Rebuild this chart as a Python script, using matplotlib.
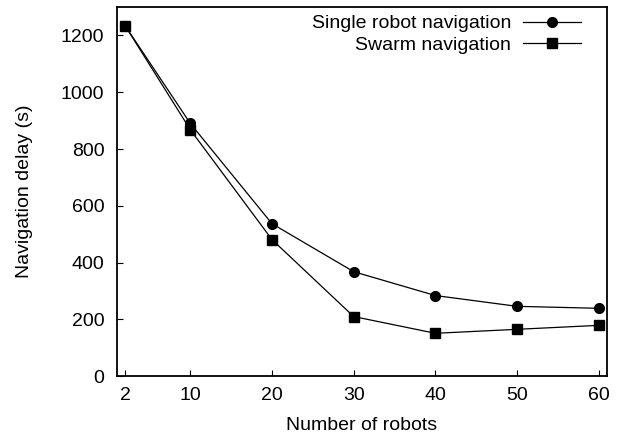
import matplotlib
matplotlib.use("Agg")
import matplotlib.pyplot as plt

plt.rcParams["font.family"] = ["Liberation Sans", "DejaVu Sans"]

robots = [2, 10, 20, 30, 40, 50, 60]
single_delay = [1235, 890, 537, 368, 284, 246, 239]
swarm_delay = [1235, 868, 481, 210, 151, 165, 179]

fig = plt.figure(figsize=(6.18, 4.41), dpi=100)
ax = fig.add_axes([0.189, 0.147, 0.793, 0.837])

ax.plot(robots, single_delay, color="black", lw=0.9, marker="o", ms=7,
        label="Single robot navigation")
ax.plot(robots, swarm_delay, color="black", lw=0.9, marker="s", ms=7.5,
        label="Swarm navigation")

ax.set_xlim(1, 61)
ax.set_ylim(0, 1300)
ax.set_xticks(robots)
ax.set_yticks(range(0, 1201, 200))
ax.tick_params(direction="in", length=4, width=0.8, labelsize=14)
ax.tick_params(axis="x", pad=8)
ax.tick_params(axis="y", pad=9)
for s in ax.spines.values():
    s.set_linewidth(1.3)

ax.set_xlabel("Number of robots", fontsize=14, labelpad=9)
ax.set_ylabel("Navigation delay (s)", fontsize=14, labelpad=20)

ax.legend(loc="upper right", bbox_to_anchor=(0.963, 1.0), frameon=False,
          markerfirst=False, handlelength=3.0, fontsize=14,
          labelspacing=0.2, handletextpad=0.6, borderaxespad=0.0)

fig.savefig("out.png", dpi=100)
